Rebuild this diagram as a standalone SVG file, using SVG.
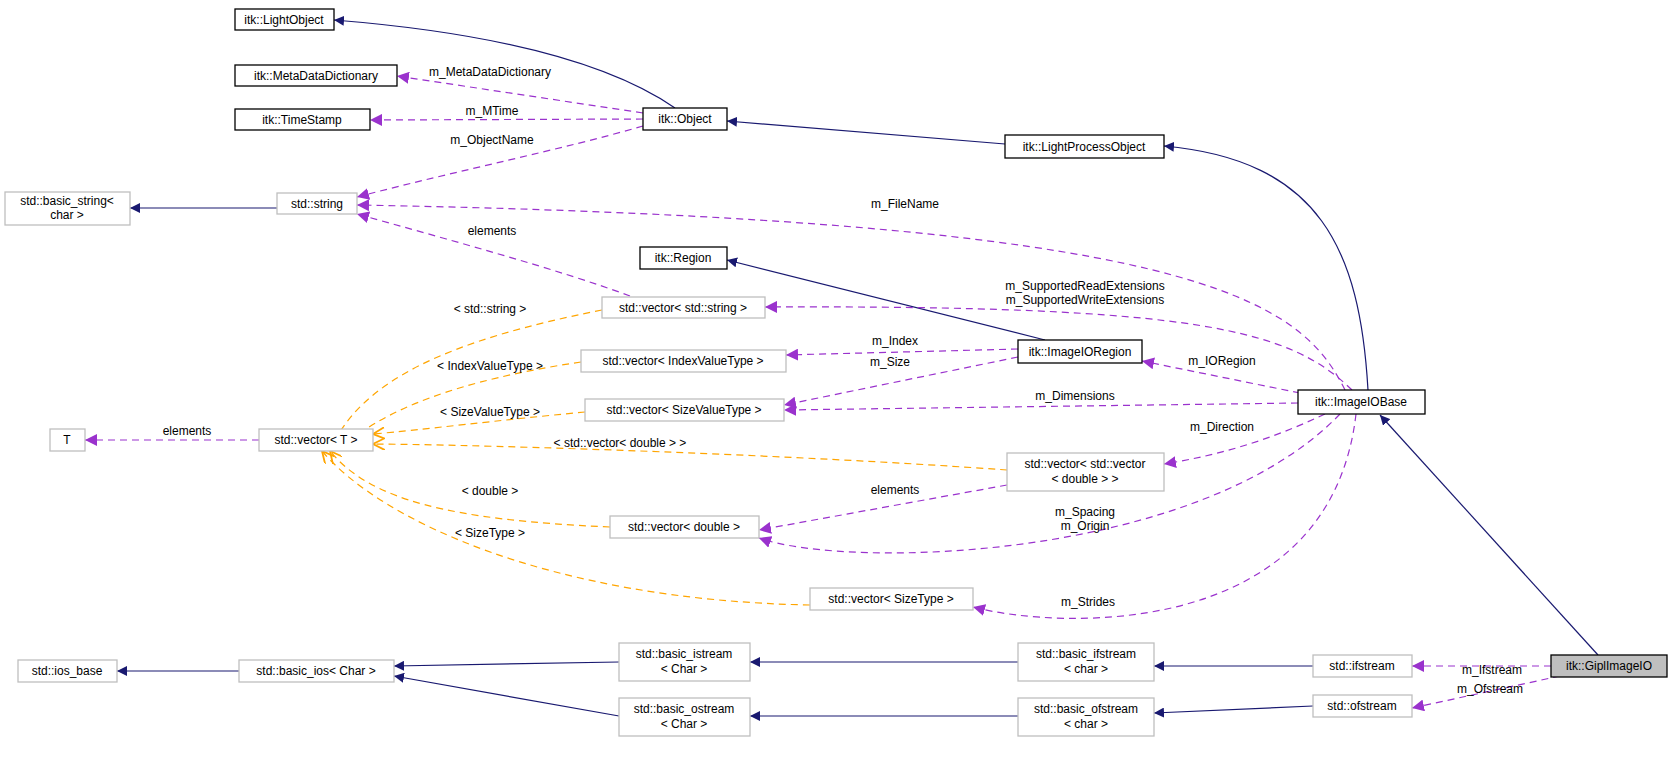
<svg xmlns="http://www.w3.org/2000/svg" width="1672" height="770" viewBox="0 0 1672 770">
<style>
text{font-family:"Liberation Sans",Arial,sans-serif;font-size:12px;fill:#000;text-anchor:middle}
.b{fill:#fff;stroke:#000;stroke-width:1.3}
.g{fill:#fff;stroke:#bfbfbf;stroke-width:1.3}
.s{fill:#bfbfbf;stroke:#000;stroke-width:1.3}
.n{fill:none;stroke:#191970;stroke-width:1.2;marker-end:url(#an)}
.p{fill:none;stroke:#9a32cd;stroke-width:1.2;stroke-dasharray:7,5;marker-end:url(#ap)}
.o{fill:none;stroke:#ffa500;stroke-width:1.2;stroke-dasharray:7,5;marker-end:url(#ao)}
</style>
<defs>
<marker id="an" viewBox="0 0 10 10" refX="10" refY="5" markerWidth="10" markerHeight="10" markerUnits="userSpaceOnUse" orient="auto"><path d="M0,0L10,5L0,10z" fill="#191970"/></marker>
<marker id="ap" viewBox="0 0 10 10" refX="10" refY="5" markerWidth="12" markerHeight="12" markerUnits="userSpaceOnUse" orient="auto"><path d="M0,0L10,5L0,10z" fill="#9a32cd"/></marker>
<marker id="ao" viewBox="0 0 10 10" refX="10" refY="5" markerWidth="12" markerHeight="12" markerUnits="userSpaceOnUse" orient="auto"><path d="M0,0L10,5L0,10" fill="none" stroke="#ffa500" stroke-width="1.5"/></marker>
</defs>
<g id="connectors">
<path class="n" d="M675,108 C620,70 520,35 334,20"/>
<path class="n" d="M1005,144 L727,121"/>
<path class="n" d="M1368,390 C1360,250 1320,160 1164,146"/>
<path class="n" d="M277,208 L130,208"/>
<path class="n" d="M1045,340 L727,260"/>
<path class="n" d="M1598,655 L1380,415"/>
<path class="n" d="M1313,666 L1154,666"/>
<path class="n" d="M1313,706 L1154,713"/>
<path class="n" d="M1018,662 L750,662"/>
<path class="n" d="M1018,716 L750,716"/>
<path class="n" d="M619,662 L394,666"/>
<path class="n" d="M619,716 L394,676"/>
<path class="n" d="M239,671 L117,671"/>
<path class="p" d="M643,113 L397,76"/>
<path class="p" d="M643,119 L370,120"/>
<path class="p" d="M643,126 C560,150 460,170 357,197"/>
<path class="p" d="M1345,390 C1300,300 1200,220 357,205"/>
<path class="p" d="M630,296 C560,270 450,240 357,214"/>
<path class="p" d="M1352,390 C1290,330 1200,305 765,307"/>
<path class="p" d="M1018,349 L786,355"/>
<path class="p" d="M1018,357 L784,405"/>
<path class="p" d="M1300,393 L1142,361"/>
<path class="p" d="M1298,403 L784,410"/>
<path class="p" d="M1325,414 C1270,440 1220,455 1164,464"/>
<path class="p" d="M1007,485 L759,530"/>
<path class="p" d="M1340,414 C1200,560 850,570 759,538"/>
<path class="p" d="M1356,414 C1330,640 1060,630 973,607"/>
<path class="p" d="M259,440 L85,440"/>
<path class="p" d="M1551,666 L1412,666"/>
<path class="p" d="M1560,676 L1412,708"/>
<path class="o" d="M602,310 C450,340 360,380 330,451"/>
<path class="o" d="M581,362 C460,380 380,410 340,450"/>
<path class="o" d="M585,412 C500,420 420,430 373,434"/>
<path class="o" d="M1007,470 C800,455 500,445 373,444"/>
<path class="o" d="M610,527 C450,520 370,500 330,451"/>
<path class="o" d="M810,605 C550,600 380,520 322,451"/>
</g>
<g id="lbl">
<text x="490" y="76">m_MetaDataDictionary</text>
<text x="492" y="115">m_MTime</text>
<text x="492" y="144">m_ObjectName</text>
<text x="905" y="208">m_FileName</text>
<text x="492" y="235">elements</text>
<text x="1085" y="290">m_SupportedReadExtensions</text>
<text x="1085" y="304">m_SupportedWriteExtensions</text>
<text x="895" y="345">m_Index</text>
<text x="890" y="366">m_Size</text>
<text x="1222" y="365">m_IORegion</text>
<text x="1075" y="400">m_Dimensions</text>
<text x="1222" y="431">m_Direction</text>
<text x="895" y="494">elements</text>
<text x="1085" y="516">m_Spacing</text>
<text x="1085" y="530">m_Origin</text>
<text x="1088" y="606">m_Strides</text>
<text x="187" y="435">elements</text>
<text x="1492" y="674">m_Ifstream</text>
<text x="1490" y="693">m_Ofstream</text>
<text x="490" y="313">&lt; std::string &gt;</text>
<text x="490" y="370">&lt; IndexValueType &gt;</text>
<text x="490" y="416">&lt; SizeValueType &gt;</text>
<text x="620" y="447">&lt; std::vector&lt; double &gt; &gt;</text>
<text x="490" y="495">&lt; double &gt;</text>
<text x="490" y="537">&lt; SizeType &gt;</text>
</g>
<g id="LightObject"><rect class="b" x="235" y="9" width="99" height="21"/><text x="284" y="24">itk::LightObject</text></g>
<g id="MetaDataDictionary"><rect class="b" x="235" y="65" width="162" height="21"/><text x="316" y="80">itk::MetaDataDictionary</text></g>
<g id="TimeStamp"><rect class="b" x="235" y="109" width="135" height="21"/><text x="302" y="124">itk::TimeStamp</text></g>
<g id="Object"><rect class="b" x="643" y="108" width="84" height="22"/><text x="685" y="123">itk::Object</text></g>
<g id="LightProcessObject"><rect class="b" x="1005" y="135" width="159" height="23"/><text x="1084" y="151">itk::LightProcessObject</text></g>
<g id="basic_string"><rect class="g" x="5" y="192" width="125" height="33"/><text x="67" y="205">std::basic_string&lt;</text><text x="67" y="219">char &gt;</text></g>
<g id="string"><rect class="g" x="277" y="193" width="80" height="21"/><text x="317" y="208">std::string</text></g>
<g id="Region"><rect class="b" x="640" y="247" width="87" height="22"/><text x="683" y="262">itk::Region</text></g>
<g id="vstring"><rect class="g" x="602" y="297" width="163" height="21"/><text x="683" y="312">std::vector&lt; std::string &gt;</text></g>
<g id="vindex"><rect class="g" x="581" y="350" width="205" height="22"/><text x="683" y="365">std::vector&lt; IndexValueType &gt;</text></g>
<g id="ImageIORegion"><rect class="b" x="1018" y="340" width="124" height="23"/><text x="1080" y="356">itk::ImageIORegion</text></g>
<g id="vsizevalue"><rect class="g" x="585" y="399" width="199" height="22"/><text x="684" y="414">std::vector&lt; SizeValueType &gt;</text></g>
<g id="ImageIOBase"><rect class="b" x="1298" y="390" width="127" height="24"/><text x="1361" y="406">itk::ImageIOBase</text></g>
<g id="T"><rect class="g" x="50" y="429" width="35" height="22"/><text x="67" y="444">T</text></g>
<g id="vT"><rect class="g" x="259" y="429" width="114" height="22"/><text x="316" y="444">std::vector&lt; T &gt;</text></g>
<g id="vvdouble"><rect class="g" x="1007" y="453" width="157" height="38"/><text x="1085" y="468">std::vector&lt; std::vector</text><text x="1085" y="483">&lt; double &gt; &gt;</text></g>
<g id="vdouble"><rect class="g" x="610" y="516" width="149" height="22"/><text x="684" y="531">std::vector&lt; double &gt;</text></g>
<g id="vsizetype"><rect class="g" x="810" y="588" width="163" height="22"/><text x="891" y="603">std::vector&lt; SizeType &gt;</text></g>
<g id="ios_base"><rect class="g" x="18" y="660" width="99" height="22"/><text x="67" y="675">std::ios_base</text></g>
<g id="basic_ios"><rect class="g" x="239" y="660" width="155" height="22"/><text x="316" y="675">std::basic_ios&lt; Char &gt;</text></g>
<g id="basic_istream"><rect class="g" x="619" y="643" width="131" height="38"/><text x="684" y="658">std::basic_istream</text><text x="684" y="673">&lt; Char &gt;</text></g>
<g id="basic_ifstream"><rect class="g" x="1018" y="643" width="136" height="38"/><text x="1086" y="658">std::basic_ifstream</text><text x="1086" y="673">&lt; char &gt;</text></g>
<g id="ifstream"><rect class="g" x="1313" y="655" width="99" height="22"/><text x="1362" y="670">std::ifstream</text></g>
<g id="GiplImageIO"><rect class="s" x="1551" y="655" width="116" height="22"/><text x="1609" y="670">itk::GiplImageIO</text></g>
<g id="basic_ostream"><rect class="g" x="619" y="698" width="131" height="38"/><text x="684" y="713">std::basic_ostream</text><text x="684" y="728">&lt; Char &gt;</text></g>
<g id="basic_ofstream"><rect class="g" x="1018" y="698" width="136" height="38"/><text x="1086" y="713">std::basic_ofstream</text><text x="1086" y="728">&lt; char &gt;</text></g>
<g id="ofstream"><rect class="g" x="1313" y="695" width="99" height="22"/><text x="1362" y="710">std::ofstream</text></g>
</svg>
